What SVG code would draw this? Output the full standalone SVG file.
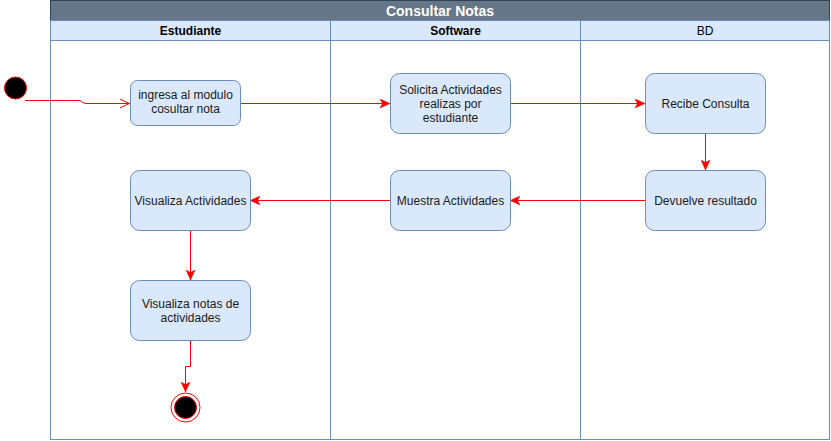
<svg xmlns="http://www.w3.org/2000/svg" width="831" height="441" viewBox="0 0 831 441">
<style>
.lane{fill:#ffffff;stroke:#6c8ebf;stroke-width:1}
.lh{fill:#dae8fc;stroke:#6c8ebf;stroke-width:1}
.lt{font-family:"Liberation Sans",Arial,sans-serif;font-size:12px;font-weight:bold;fill:#000;text-anchor:middle}
.node rect{fill:#dae8fc;stroke:#6c8ebf;stroke-width:1}
.node text{font-family:"Liberation Sans",Arial,sans-serif;font-size:12px;fill:#1a1a1a;text-anchor:middle}
.edge{fill:none;stroke:#ff0000;stroke-width:1}
</style>
<defs>
<marker id="arr" viewBox="0 0 10 10" refX="10" refY="5" markerWidth="10" markerHeight="10" markerUnits="userSpaceOnUse" orient="auto">
<path d="M0,0.5 L10,5 L0,9.5 L2.5,5 Z" fill="#ff0000" stroke="#ff0000" stroke-width="0.5"/>
</marker>
<marker id="open" viewBox="0 0 10 10" refX="10" refY="5" markerWidth="10" markerHeight="10" markerUnits="userSpaceOnUse" orient="auto">
<path d="M0,0.5 L10,5 L0,9.5" fill="none" stroke="#ff0000" stroke-width="1"/>
</marker>
</defs>
<rect width="831" height="441" fill="#ffffff"/>
<g id="pool">
<rect x="50.5" y="0.5" width="779" height="20" fill="#647687" stroke="#314354"/>
<text x="440" y="15.5" font-family="'Liberation Sans',Arial,sans-serif" font-size="14" font-weight="bold" fill="#ffffff" text-anchor="middle">Consultar Notas</text>
</g>
<g id="lane-estudiante">
<rect class="lane" x="50.5" y="20.5" width="280" height="419"/>
<rect class="lh" x="50.5" y="20.5" width="280" height="20"/>
<text class="lt" x="190.5" y="35">Estudiante</text>
</g>
<g id="lane-software">
<rect class="lane" x="330.5" y="20.5" width="250" height="419"/>
<rect class="lh" x="330.5" y="20.5" width="250" height="20"/>
<text class="lt" x="455.5" y="35">Software</text>
</g>
<g id="lane-bd">
<rect class="lane" x="580.5" y="20.5" width="249" height="419"/>
<rect class="lh" x="580.5" y="20.5" width="249" height="20"/>
<text class="lt" x="705" y="35" font-weight="normal" style="font-weight:normal">BD</text>
</g>
<g id="connectors">
<path class="edge" d="M25,100.5 L80,100.5 Q83,103.5 86,103.5 L129.5,103.5" marker-end="url(#open)"/>
<path class="edge" d="M240,103.5 L390,103.5" marker-end="url(#arr)"/>
<path class="edge" d="M510,103.5 L645,103.5" marker-end="url(#arr)"/>
<path class="edge" d="M705.5,133 L705.5,170" marker-end="url(#arr)"/>
<path class="edge" d="M645,200.5 L510,200.5" marker-end="url(#arr)"/>
<path class="edge" d="M390,200.5 L250,200.5" marker-end="url(#arr)"/>
<path class="edge" d="M190.5,230 L190.5,280" marker-end="url(#arr)"/>
<path class="edge" d="M190.5,340 L190.5,366.5 L185.5,366.5 L185.5,392" marker-end="url(#arr)"/>
</g>
<g id="start">
<circle cx="15.5" cy="88" r="11" fill="#000000" stroke="#ff0000" stroke-width="1"/>
</g>
<g id="n-ingresa" class="node">
<rect x="130.5" y="80.5" width="110" height="45" rx="7"/>
<text x="185.5" y="99">ingresa al modulo</text>
<text x="185.5" y="113">cosultar nota</text>
</g>
<g id="n-solicita" class="node">
<rect x="390.5" y="73.5" width="120" height="60" rx="9"/>
<text x="450.5" y="94">Solicita Actividades</text>
<text x="450.5" y="108">realizas por</text>
<text x="450.5" y="122">estudiante</text>
</g>
<g id="n-recibe" class="node">
<rect x="645.5" y="73.5" width="120" height="60" rx="9"/>
<text x="705.5" y="108">Recibe Consulta</text>
</g>
<g id="n-devuelve" class="node">
<rect x="645.5" y="170.5" width="120" height="60" rx="9"/>
<text x="705.5" y="205">Devuelve resultado</text>
</g>
<g id="n-muestra" class="node">
<rect x="390.5" y="170.5" width="120" height="60" rx="9"/>
<text x="450.5" y="205">Muestra Actividades</text>
</g>
<g id="n-visualiza" class="node">
<rect x="130.5" y="170.5" width="120" height="60" rx="9"/>
<text x="190.5" y="205">Visualiza Actividades</text>
</g>
<g id="n-notas" class="node">
<rect x="130.5" y="280.5" width="120" height="60" rx="9"/>
<text x="190.5" y="308">Visualiza notas de</text>
<text x="190.5" y="322">actividades</text>
</g>
<g id="end">
<circle cx="185.5" cy="407.5" r="14.5" fill="#ffffff" stroke="#ff0000" stroke-width="1"/>
<circle cx="185.5" cy="407.5" r="11" fill="#000000" stroke="#ff0000" stroke-width="1"/>
</g>
</svg>
